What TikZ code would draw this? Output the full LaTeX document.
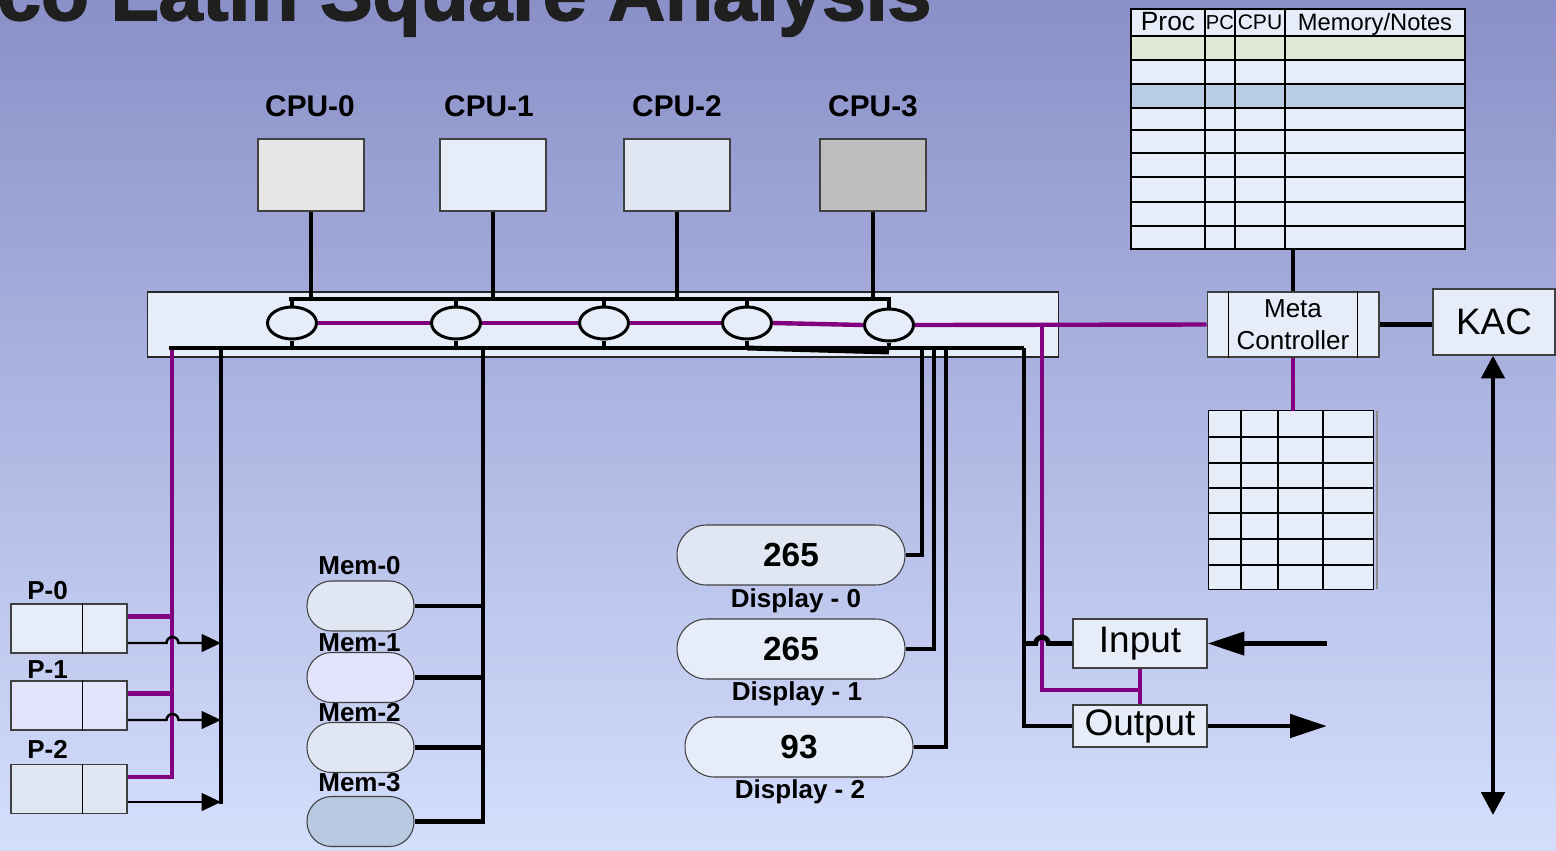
\documentclass[tikz,border=0pt]{standalone}
\usepackage{fontspec}
\setmainfont{Liberation Sans}
\newfontfamily\heavyfont{Liberation Sans}[BoldFeatures={FakeBold=2.2}]
\usepackage{xcolor}
\usetikzlibrary{arrows.meta,positioning,calc,shapes.geometric}
\definecolor{bgtop}{RGB}{138,144,200}
\definecolor{bgbot}{RGB}{212,222,252}
\definecolor{paleblue}{HTML}{E6EDF8}
\definecolor{greyblue}{HTML}{E0E7F2}
\definecolor{lavend}{HTML}{E3E3FC}
\definecolor{cpugreyA}{HTML}{E6E6E6}
\definecolor{cpugreyB}{HTML}{BEBEBE}
\definecolor{memdark}{HTML}{B8C9E1}
\definecolor{rowgreen}{HTML}{E0E8D8}
\definecolor{rowblue}{HTML}{B8CCE4}
\definecolor{linkpurple}{HTML}{800080}
\definecolor{edgegrey}{HTML}{404040}
\tikzset{
  titletxt/.style={font=\heavyfont\fontsize{44.7}{50}\selectfont\bfseries,text=black!88,inner sep=0pt},
  cpulbl/.style={font=\fontsize{17}{20}\selectfont\bfseries,inner sep=0pt},
  lbl/.style={font=\fontsize{14.8}{17}\selectfont\bfseries,inner sep=0pt},
  cpubox/.style={rectangle,draw=edgegrey,line width=0.6pt,minimum width=2.12cm,minimum height=1.44cm,inner sep=0pt},
  swbox/.style={rectangle,draw=black!85,line width=0.6pt,fill=paleblue,minimum width=18.24cm,minimum height=1.3cm,inner sep=0pt},
  portell/.style={ellipse,draw=black,line width=1.7pt,fill=paleblue,minimum width=0.98cm,minimum height=0.64cm,inner sep=0pt},
  pbox/.style={rectangle,draw=edgegrey,line width=0.6pt,minimum width=2.32cm,minimum height=0.98cm,inner sep=0pt},
  membox/.style={rectangle,rounded corners=0.49cm,draw=edgegrey,line width=0.6pt,minimum width=2.14cm,minimum height=1.0cm,inner sep=0pt},
  dispbox/.style={rectangle,rounded corners=0.59cm,draw=edgegrey,line width=0.6pt,minimum width=4.56cm,minimum height=1.2cm,inner sep=0pt,font=\fontsize{19}{22}\selectfont\bfseries},
  iobox/.style={rectangle,draw=edgegrey,line width=0.6pt,fill=paleblue,minimum width=2.68cm,inner sep=0pt,font=\fontsize{21}{24}\selectfont},
  metabox/.style={rectangle,draw=edgegrey,line width=0.6pt,fill=paleblue,minimum width=3.44cm,minimum height=1.3cm,inner sep=0pt,align=center,font=\fontsize{14.8}{18.2}\selectfont},
  kacbox/.style={rectangle,draw=edgegrey,line width=0.6pt,fill=paleblue,minimum width=2.44cm,minimum height=1.32cm,inner sep=0pt,font=\fontsize{21}{24}\selectfont},
  tabbox/.style={rectangle,fill=paleblue,inner sep=0pt},
  thinln/.style={draw=black,line width=0.6pt},
  tabline/.style={draw=black,line width=1.1pt},
  ltabline/.style={draw=black,line width=0.9pt},
  bus/.style={draw=black,line width=2.8pt},
  stub/.style={draw=black,line width=2pt},
  purp/.style={draw=linkpurple,line width=2.5pt},
  parrow/.style={-{Triangle[length=11pt,width=10pt]},draw=black,line width=1.4pt},
  bigarrow/.style={-{Triangle[length=21pt,width=13pt]},draw=black,line width=2.8pt},
  kacarrow/.style={{Triangle[length=13pt,width=13pt]}-{Triangle[length=13pt,width=13pt]},draw=black,line width=2.8pt},
}
\begin{document}
\begin{tikzpicture}[x=0.02cm,y=-0.02cm]
  \useasboundingbox (0,0) rectangle (1556,850);
  \clip (0,0) rectangle (1556,850);
  \shade[top color=bgtop,bottom color=bgbot] (0,0) rectangle (1556,850);
  \node[titletxt,anchor=base west] (ntitle) at (-3,20) {co Latin Square Analysis};

  % processors
  \node[cpulbl] (lcpu0) at (310,106) {CPU-0};
  \node[cpulbl] (lcpu1) at (489,106) {CPU-1};
  \node[cpulbl] (lcpu2) at (677,106) {CPU-2};
  \node[cpulbl] (lcpu3) at (873,106) {CPU-3};
  \node[cpubox,fill=cpugreyA] (ncpu0) at (311,175) {};
  \node[cpubox,fill=paleblue] (ncpu1) at (493,175) {};
  \node[cpubox,fill=greyblue] (ncpu2) at (677,175) {};
  \node[cpubox,fill=cpugreyB] (ncpu3) at (873,175) {};

  % switch
  \node[swbox] (nsw) at (603,324.5) {};
  \coordinate (tbusL) at (289,299);
  \coordinate (tbusR) at (891,299);
  \coordinate (bbusL) at (169,348);
  \coordinate (bbusR) at (1024,348);
  \draw[bus] (tbusL) -- (tbusR);
  \draw[bus] (bbusL) -- (bbusR);
  \node[portell] (nport0) at (292,323) {};
  \node[portell] (nport1) at (456,323) {};
  \node[portell] (nport2) at (604,323) {};
  \node[portell] (nport3) at (747,323) {};
  \node[portell] (nport4) at (889,325) {};
  \foreach \i in {0,...,4} {
    \draw[stub] (nport\i.north) -- (nport\i.north |- tbusL);
    \draw[stub] (nport\i.south) -- (nport\i.south |- bbusL);
  }
  \draw[bus] (nport3.south |- bbusL) -- ($(nport4.south |- bbusL)+(0,4)$);
  \foreach \i in {0,...,3}
    \draw[bus] (ncpu\i.south) -- (ncpu\i.south |- tbusL);

  % meta controller and kac
  \node[metabox] (nmeta) at (1293,324.5) {Meta\\Controller};
  \draw[thinln] ($(nmeta.north west)+(22,0)$) -- ($(nmeta.south west)+(22,0)$);
  \draw[thinln] ($(nmeta.north east)+(-22,0)$) -- ($(nmeta.south east)+(-22,0)$);
  \node[kacbox] (nkac) at (1494,322) {KAC};
  \draw[bus] (nmeta.east) -- (nmeta.east -| nkac.west);
  \coordinate (kacend) at (1493,815);
  \draw[kacarrow] (kacend) -- (kacend |- nkac.south);

  \draw[purp] (nport0.east) -- (nport1.west);
  \draw[purp] (nport1.east) -- (nport2.west);
  \draw[purp] (nport2.east) -- (nport3.west);
  \draw[purp] (nport3.east) -- (nport4.west);
  \draw[purp] (nport4.east) -- (nmeta.west);

  % process table
  \node[tabbox,minimum width=6.68cm,minimum height=4.8cm] (ntab) at (1298,129) {};
  \fill[rowgreen] (1131,36) rectangle (1465,60);
  \fill[rowblue] (1131,84) rectangle (1465,108);
  \foreach \y in {36,60,84,108,130,153,177,202,226}
    \draw[tabline] (1131,\y) -- (1465,\y);
  \foreach \x in {1205,1235,1285}
    \draw[tabline] (\x,9) -- (\x,249);
  \draw[tabline] (ntab.north west) rectangle (ntab.south east);
  \node[font=\fontsize{15}{17}\selectfont,anchor=base,inner sep=0pt] (hproc) at (1168,30) {Proc};
  \node[font=\fontsize{11.5}{13}\selectfont,anchor=base,inner sep=0pt] (hpc) at (1220,29) {PC};
  \node[font=\fontsize{12}{14}\selectfont,anchor=base,inner sep=0pt] (hcpu) at (1260,29) {CPU};
  \node[font=\fontsize{13.5}{16}\selectfont,anchor=base,inner sep=0pt] (hmem) at (1375,30) {Memory/Notes};
  \draw[bus] (nmeta.north) -- (nmeta.north |- ntab.south);

  % latin square table
  \node[tabbox,minimum width=3.28cm,minimum height=3.56cm] (nltab) at (1291,500) {};
  \foreach \y in {437,463,488,513,539,565}
    \draw[ltabline] (1209,\y) -- (1373,\y);
  \foreach \x in {1241,1278,1323}
    \draw[ltabline] (\x,411) -- (\x,589);
  \draw[ltabline] (nltab.north west) rectangle (nltab.south east);
  \draw[draw=black!45,line width=0.6pt] (1377,411) -- (1377,589);
  \draw[purp] (nmeta.south) -- (nmeta.south |- nltab.north);

  % peripherals
  \coordinate (ppur) at (172,350);
  \coordinate (pbus) at (221,348);
  \coordinate (mbus) at (483,348);
  \coordinate (dbus0) at (922,348);
  \coordinate (dbus1) at (934,348);
  \coordinate (dbus2) at (946,348);

  \node[pbox,fill=paleblue] (np0) at (69,628.5) {};
  \node[pbox,fill=lavend] (np1) at (69,705.5) {};
  \node[pbox,fill=greyblue] (np2) at (69,789) {};
  \foreach \p in {np0,np1,np2}
    \draw[thinln] ($(\p.north west)+(72,0)$) -- ($(\p.south west)+(72,0)$);
  \node[lbl,anchor=base west] (lp0) at (27,599) {P-0};
  \node[lbl,anchor=base west] (lp1) at (27,678) {P-1};
  \node[lbl,anchor=base west] (lp2) at (27,758) {P-2};
  \draw[purp] (ppur) -- ($(ppur |- np2.east)+(0,-12)$) -- ($(np2.east)+(0,-12)$);
  \foreach \p in {np0,np1}
    \draw[purp] ($(\p.east)+(0,-12)$) -- ($(ppur |- \p.east)+(0,-12)$);
  \draw[bus] (pbus) -- ($(pbus |- np2.east)+(0,14.5)$);
  \foreach \p in {np0,np1}
    \draw[parrow] ($(\p.east)+(0,14.5)$) -- ++(39,0) arc[start angle=180,end angle=0,radius=3.4pt] -- ($(pbus |- \p.east)+(0,14.5)$);
  \draw[parrow] ($(np2.east)+(0,13)$) -- ($(pbus |- np2.east)+(0,13)$);

  \node[membox,fill=greyblue] (nmem0) at (360.5,606) {};
  \node[membox,fill=lavend] (nmem1) at (360.5,677.5) {};
  \node[membox,fill=greyblue] (nmem2) at (360.5,747.5) {};
  \node[membox,fill=memdark] (nmem3) at (360.5,821.5) {};
  \node[lbl,anchor=base west] (lmem0) at (318,574) {Mem-0};
  \node[lbl,anchor=base west] (lmem1) at (318,651) {Mem-1};
  \node[lbl,anchor=base west] (lmem2) at (318,721) {Mem-2};
  \node[lbl,anchor=base west] (lmem3) at (318,791) {Mem-3};
  \draw[bus] (mbus) |- (nmem3.east);
  \foreach \i in {0,1,2}
    \draw[bus] (nmem\i.east) -- (mbus |- nmem\i.east);

  \node[dispbox,fill=greyblue] (ndisp0) at (791,555) {265};
  \node[dispbox,fill=paleblue] (ndisp1) at (791,649) {265};
  \node[dispbox,fill=paleblue] (ndisp2) at (799,747) {93};
  \node[lbl,anchor=base] (ldisp0) at (796,607) {Display - 0};
  \node[lbl,anchor=base] (ldisp1) at (797,700) {Display - 1};
  \node[lbl,anchor=base] (ldisp2) at (800,798) {Display - 2};
  \draw[bus] (ndisp0.east) -| (dbus0);
  \draw[bus] (ndisp1.east) -| (dbus1);
  \draw[bus] (ndisp2.east) -| (dbus2);

  % input and output
  \node[iobox,minimum height=0.98cm] (ninput) at (1140,643.5) {Input};
  \node[iobox,minimum height=0.84cm] (noutput) at (1140,726) {Output};
  \coordinate (pjn) at (1042,325);
  \coordinate (pjo) at (1140,690);
  \draw[purp] (pjn) |- (pjo);
  \draw[purp] (ninput.south) -- (noutput.north);
  \draw[bus] (bbusR) |- (noutput.west);
  \draw[bus] (bbusR |- ninput.west) -- ++(11.7,0) arc[start angle=180,end angle=0,radius=3.6pt] -- (ninput.west);
  \coordinate (inext) at (1327,646);
  \coordinate (outext) at (1327,727);
  \draw[bigarrow] (inext |- ninput.east) -- (ninput.east);
  \draw[bigarrow] (noutput.east) -- (outext |- noutput.east);
\end{tikzpicture}
\end{document}
